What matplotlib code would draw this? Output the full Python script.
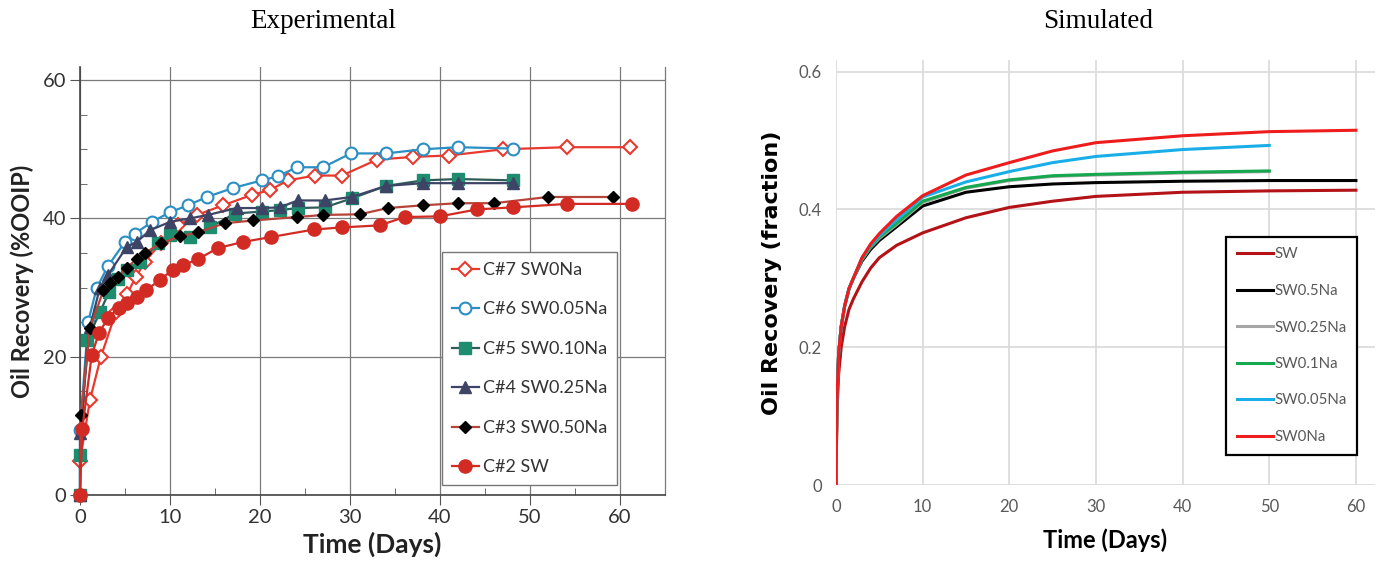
import matplotlib
matplotlib.use("Agg")
import matplotlib.pyplot as plt
import numpy as np

# ---------------- Experimental data (left) ----------------
c7_x = [0, 1.1, 2.3, 4.0, 5.2, 6.2, 7.2, 9.0, 10.9, 13.0, 15.9, 19.1, 21.1, 23.1, 26.1, 29.1, 33.0, 37.0, 41.0, 47.0, 54.1, 61.1]
c7_y = [4.9, 13.7, 19.9, 26.5, 29.0, 31.5, 33.7, 36.5, 39.0, 40.5, 41.9, 43.4, 44.1, 45.5, 46.2, 46.2, 48.5, 48.9, 49.1, 50.0, 50.3, 50.3]

c6_x = [0, 0, 0.9, 1.85, 3.1, 5.0, 6.1, 8.0, 10.0, 12.0, 14.1, 17.0, 20.2, 22.0, 24.1, 27.0, 30.1, 34.0, 38.1, 42.0, 48.1]
c6_y = [0, 9.4, 25.0, 29.9, 33.1, 36.6, 37.8, 39.5, 40.9, 41.9, 43.1, 44.4, 45.5, 46.1, 47.4, 47.4, 49.4, 49.4, 50.0, 50.3, 50.1]

c5_x = [0, 0, 0.8, 2.2, 3.2, 4.2, 5.2, 6.7, 8.7, 10.0, 12.2, 14.4, 17.2, 20.2, 22.2, 24.2, 27.2, 30.2, 34.0, 38.1, 42.0, 48.1]
c5_y = [0, 5.8, 22.4, 26.4, 29.3, 31.3, 32.5, 33.7, 36.4, 37.6, 37.3, 38.7, 40.7, 41.0, 41.2, 41.5, 41.6, 42.9, 44.7, 45.5, 45.7, 45.5]

c4_x = [0, 0, 1.1, 2.2, 3.1, 5.2, 6.3, 7.8, 10.0, 12.2, 14.2, 17.4, 20.2, 22.2, 24.2, 27.2, 30.2, 34.0, 38.1, 42.0, 48.1]
c4_y = [0, 9.0, 24.3, 29.9, 31.8, 35.9, 36.6, 38.3, 39.5, 40.0, 40.5, 41.5, 41.5, 41.6, 42.6, 42.6, 43.1, 44.7, 45.1, 45.1, 45.1]

c3_x = [0, 0.1, 1.1, 2.6, 3.3, 4.2, 5.2, 6.3, 7.2, 9.0, 11.1, 13.1, 16.1, 19.2, 24.1, 27.0, 31.1, 34.2, 38.1, 42.0, 46.0, 52.0, 59.2]
c3_y = [0, 11.6, 24.1, 29.6, 30.6, 31.5, 32.9, 34.1, 35.0, 36.4, 37.4, 38.0, 39.3, 39.7, 40.2, 40.5, 40.6, 41.5, 41.9, 42.2, 42.2, 43.1, 43.1]

c2_x = [0, 0.25, 1.3, 2.1, 3.1, 4.3, 5.2, 6.3, 7.3, 8.9, 10.3, 11.4, 13.1, 15.3, 18.1, 21.2, 26.0, 29.1, 33.3, 36.1, 40.0, 44.1, 48.1, 54.1, 61.3]
c2_y = [0, 9.5, 20.2, 23.4, 25.6, 27.1, 27.7, 28.6, 29.6, 31.1, 32.6, 33.2, 34.1, 35.7, 36.6, 37.3, 38.4, 38.7, 39.0, 40.2, 40.3, 41.3, 41.6, 42.1, 42.1]

exp_labels = ["C#7 SW0Na", "C#6 SW0.05Na", "C#5 SW0.10Na", "C#4 SW0.25Na", "C#3 SW0.50Na", "C#2 SW"]

# ---------------- Simulated data (right) ----------------
t60 = [0, 0.1, 0.3, 0.6, 1, 1.5, 2, 3, 4, 5, 7, 10, 15, 20, 25, 30, 40, 50, 60]
t50 = [0, 0.1, 0.3, 0.6, 1, 1.5, 2, 3, 4, 5, 7, 10, 15, 20, 25, 30, 40, 50]
sim_sw = [0, 0.10, 0.16, 0.20, 0.23, 0.255, 0.27, 0.295, 0.315, 0.33, 0.348, 0.366, 0.388, 0.403, 0.412, 0.419, 0.425, 0.427, 0.428]
sim_sw05 = [0, 0.12, 0.19, 0.23, 0.26, 0.285, 0.30, 0.325, 0.342, 0.355, 0.375, 0.405, 0.425, 0.433, 0.437, 0.439, 0.441, 0.442, 0.442]
sim_sw025 = [0, 0.12, 0.19, 0.23, 0.26, 0.285, 0.30, 0.327, 0.345, 0.358, 0.378, 0.410, 0.431, 0.442, 0.448, 0.450, 0.453, 0.455]
sim_sw01 = [0, 0.12, 0.19, 0.23, 0.26, 0.285, 0.30, 0.328, 0.346, 0.36, 0.38, 0.412, 0.432, 0.443, 0.449, 0.451, 0.454, 0.456]
sim_sw005 = [0, 0.12, 0.19, 0.23, 0.26, 0.285, 0.30, 0.33, 0.348, 0.362, 0.385, 0.418, 0.44, 0.455, 0.468, 0.477, 0.487, 0.493]
sim_sw0 = [0, 0.12, 0.19, 0.23, 0.26, 0.285, 0.30, 0.33, 0.35, 0.365, 0.39, 0.42, 0.45, 0.468, 0.485, 0.497, 0.507, 0.513, 0.515]
sim_labels = ["SW", "SW0.5Na", "SW0.25Na", "SW0.1Na", "SW0.05Na", "SW0Na"]

fig = plt.figure(figsize=(13.81, 5.78), dpi=100)

# ================= LEFT =================
ax = fig.add_axes([80/1381, 1-495/578, 585/1381, 428/578])
ax.set_xlim(0, 65)
ax.set_ylim(0, 61.9)
ax.set_xticks([0, 10, 20, 30, 40, 50, 60])
ax.set_yticks([0, 20, 40, 60])
ax.set_xticks(np.arange(5, 65, 10), minor=True)
ax.set_yticks([5, 10, 15, 25, 30, 35, 45, 50, 55], minor=True)
ax.grid(True, which="major", color="#7a7a7a", lw=0.9)
ax.set_axisbelow(True)
for s in ["left", "bottom", "right"]:
    ax.spines[s].set_color("#444444")
    ax.spines[s].set_linewidth(1.2)
ax.spines["top"].set_visible(False)
ax.spines["right"].set_color("#7a7a7a")
ax.spines["right"].set_linewidth(0.9)
ax.tick_params(which="major", direction="out", length=7, color="#555555", labelsize=14.5, pad=3)
ax.tick_params(which="minor", direction="in", length=5, color="#555555")
for lab in ax.get_xticklabels() + ax.get_yticklabels():
    lab.set_fontfamily("Lato")
    lab.set_color("#333333")

ms = 8.5
lw = 1.6
kw = dict(clip_on=False, zorder=3)
ax.plot(c7_x, c7_y, color="#e8392f", lw=lw, marker="D", ms=7.5, mfc="white", mec="#e8392f", mew=1.5, label=exp_labels[0], **kw)
ax.plot(c6_x, c6_y, color="#2b8fc4", lw=lw, marker="o", ms=ms, mfc="white", mec="#2b8fc4", mew=1.5, label=exp_labels[1], **kw)
ax.plot(c5_x, c5_y, color="#2f5b5a", lw=lw, marker="s", ms=ms, mfc="#1e8c6e", mec="#1e8c6e", label=exp_labels[2], **kw)
ax.plot(c4_x, c4_y, color="#3d4466", lw=lw, marker="^", ms=ms, mfc="#3d4466", mec="#3d4466", label=exp_labels[3], **kw)
ax.plot(c3_x, c3_y, color="#b5453a", lw=lw, marker="D", ms=6.5, mfc="black", mec="black", label=exp_labels[4], **kw)
ax.plot(c2_x, c2_y, color="#d12b24", lw=lw, marker="o", ms=ms+1, mfc="#d12b24", mec="#d12b24", label=exp_labels[5], **kw)

ax.set_xlabel("Time (Days)", fontsize=19, fontweight="bold", family="Lato", color="#222222", labelpad=4)
ax.set_ylabel("Oil Recovery (%OOIP)", fontsize=17, fontweight="bold", family="Lato", color="#222222", labelpad=6)

leg = ax.legend(loc="upper left", bbox_to_anchor=(442/1381, 1-252/578), bbox_transform=fig.transFigure,
                frameon=True, fancybox=False, edgecolor="#777777", framealpha=1,
                prop={"family": "Lato", "size": 13}, labelspacing=1.3, handlelength=1.5,
                handletextpad=0.2, borderpad=0.55, borderaxespad=0)
leg.get_frame().set_linewidth(1.0)
for t in leg.get_texts():
    t.set_color("#333333")

fig.text(323/1381, 1-22/578, "Experimental", ha="center", va="center", fontsize=19.5, family="Liberation Serif")

# ================= RIGHT =================
ax2 = fig.add_axes([836/1381, 1-485/578, 539/1381, 425/578])
ax2.set_xlim(0, 62.2)
ax2.set_ylim(0, 0.617)
ax2.set_xticks([0, 10, 20, 30, 40, 50, 60])
ax2.set_yticks([0, 0.2, 0.4, 0.6])
ax2.set_yticklabels(["0", "0.2", "0.4", "0.6"])
ax2.grid(True, color="#d9d9d9", lw=1.2)
ax2.set_axisbelow(True)
for s in ax2.spines.values():
    s.set_visible(False)
ax2.tick_params(length=0, labelsize=12, labelcolor="#595959", pad=10)
for lab in ax2.get_xticklabels() + ax2.get_yticklabels():
    lab.set_fontfamily("Lato")

slw = 2.2
ax2.plot(t60, sim_sw, color="#b31217", lw=slw, label=sim_labels[0])
ax2.plot(t60, sim_sw05, color="#000000", lw=slw, label=sim_labels[1])
ax2.plot(t50, sim_sw025, color="#a5a5a5", lw=slw, label=sim_labels[2])
ax2.plot(t50, sim_sw01, color="#16a84e", lw=slw, label=sim_labels[3])
ax2.plot(t50, sim_sw005, color="#1aaee8", lw=slw, label=sim_labels[4])
ax2.plot(t60, sim_sw0, color="#ee1c1c", lw=slw, label=sim_labels[5])

ax2.set_xlabel("Time (Days)", fontsize=17, fontweight="bold", family="Lato", color="black", labelpad=10)
ax2.set_ylabel("Oil Recovery (fraction)", fontsize=16, fontweight="bold", family="DejaVu Sans", color="black", labelpad=12)

leg2 = ax2.legend(loc="upper left", bbox_to_anchor=(1226/1381, 1-237/578), bbox_transform=fig.transFigure,
                  frameon=True, fancybox=False, edgecolor="black", framealpha=1,
                  prop={"family": "Lato", "size": 10.8}, labelspacing=1.5, handlelength=2.4,
                  handletextpad=0.1, borderpad=0.7, borderaxespad=0)
leg2.get_frame().set_linewidth(1.6)
for t in leg2.get_texts():
    t.set_color("#595959")

fig.text(1098/1381, 1-22/578, "Simulated", ha="center", va="center", fontsize=19.5, family="Liberation Serif")

fig.savefig("out.png", dpi=100)
